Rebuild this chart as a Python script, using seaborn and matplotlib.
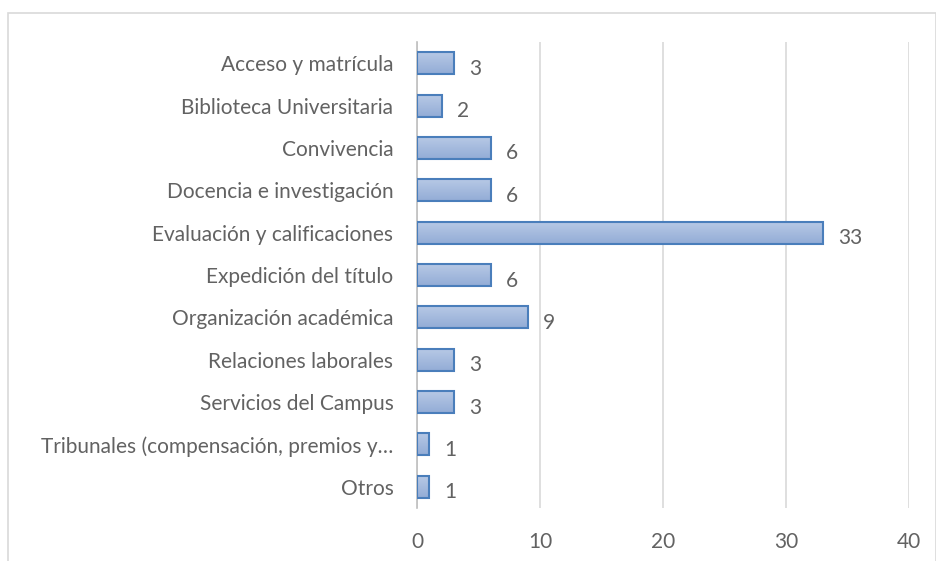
import numpy as np
import pandas as pd
import seaborn as sns
import matplotlib.pyplot as plt
from matplotlib.patches import Rectangle

# datos
categorias = [
    "Acceso y matrícula",
    "Biblioteca Universitaria",
    "Convivencia",
    "Docencia e investigación",
    "Evaluación y calificaciones",
    "Expedición del título",
    "Organización académica",
    "Relaciones laborales",
    "Servicios del Campus",
    "Tribunales (compensación, premios y…",
    "Otros",
]
valores = [3, 2, 6, 6, 33, 6, 9, 3, 3, 1, 1]
ticks_x = [0, 10, 20, 30, 40]

gris = "#626262"
borde = "#4a7ebb"
fs = 15

sns.set_theme(style="white")
plt.rcParams["font.family"] = ["Lato", "DejaVu Sans"]

df = pd.DataFrame({"categoria": categorias, "valor": valores})

fig = plt.figure(figsize=(9.36, 5.61), dpi=100)
W, H = 936, 561
ax = fig.add_axes([417 / W, 1 - 508 / H, (909 - 417) / W, (508 - 42) / H])

sns.barplot(data=df, x="valor", y="categoria", orient="h", ax=ax,
            color="#a6bbdf", width=0.52, edgecolor=borde, linewidth=1.5,
            zorder=3)

# degradado dentro de cada barra
grad = np.linspace(0, 1, 64).reshape(-1, 1)
cmap = sns.blend_palette(["#b8cae6", "#93acd6"], as_cmap=True)
for p in ax.patches:
    x0, y0 = p.get_x(), p.get_y()
    w, h = p.get_width(), p.get_height()
    im = ax.imshow(grad, cmap=cmap, aspect="auto", extent=(x0, x0 + w, y0 + h, y0),
                   zorder=2, interpolation="bilinear")
    im.set_clip_path(p)
    p.set_facecolor("none")

ax.set_xlim(0, 40)
ax.set_ylim(len(categorias) - 0.5, -0.5)
ax.set_xticks(ticks_x)
ax.set_xlabel("")
ax.set_ylabel("")
ax.grid(axis="x", color="#d9d9d9", linewidth=1.2, zorder=0)
ax.set_axisbelow(True)
for s in ["top", "right", "bottom"]:
    ax.spines[s].set_visible(False)
ax.spines["left"].set_color("#bfbfbf")
ax.spines["left"].set_linewidth(1.2)
ax.tick_params(axis="y", length=0, pad=17, labelsize=fs, labelcolor=gris)
ax.tick_params(axis="x", length=0, pad=17, labelsize=fs, labelcolor=gris)

# etiquetas de valor
for i, v in enumerate(valores):
    ax.annotate(str(v), (v, i), xytext=(11, -4), textcoords="offset points",
                ha="left", va="center", fontsize=fs, color=gris)

# marco del gráfico
fig.patches.append(Rectangle((8 / W, -0.1), (936 - 8) / W - 0.0005, 1 - 13 / H + 0.1,
                             transform=fig.transFigure, fill=False,
                             edgecolor="#d9d9d9", linewidth=1.2))

fig.savefig("out.png", dpi=100)
